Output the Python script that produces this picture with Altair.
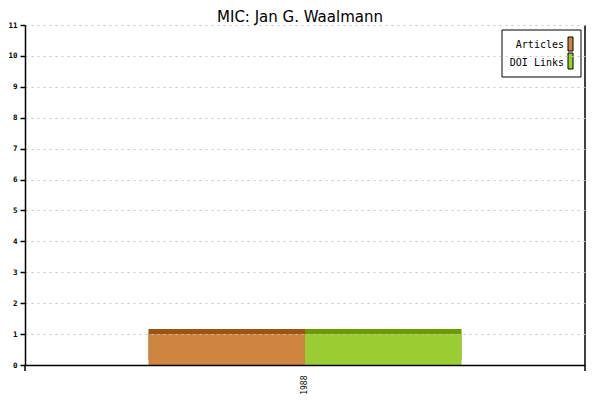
import altair as alt
import pandas as pd

years = ["1988"]
series = ["Articles", "DOI Links"]
articles = [1]
doi_links = [1]
title_text = "MIC: Jan G. Waalmann"

front_colors = ["#CD853F", "#9ACD32"]
back_colors = ["#9C5412", "#6A9B00"]

rows = []
for i, y in enumerate(years):
    rows.append({"year": y, "series": series[0], "value": articles[i]})
    rows.append({"year": y, "series": series[1], "value": doi_links[i]})
df = pd.DataFrame(rows)

W, H = 560, 340
mono = "DejaVu Sans Mono"

x_enc = alt.X("year:N", title=None,
              scale=alt.Scale(paddingInner=0, paddingOuter=0.3946),
              axis=alt.Axis(labelAngle=270, ticks=False, labelPadding=10,
                            labelFont=mono, labelFontSize=8, labelColor="black",
                            domainColor="black", domainWidth=1.5, grid=False, zindex=2))
xoff = alt.XOffset("series:N", sort=series,
                   scale=alt.Scale(paddingInner=0, paddingOuter=0))
y_enc = alt.Y("value:Q", title=None,
              scale=alt.Scale(domain=[0, 11], nice=False),
              axis=alt.Axis(values=list(range(0, 12)), tickSize=5, tickColor="black",
                            tickWidth=1.5, domainColor="black", domainWidth=1.5,
                            labelFont=mono, labelFontSize=7.5, labelFontWeight="bold",
                            labelColor="black", labelPadding=3,
                            grid=True, gridColor="#c4c4c4", gridDash=[2, 4], zindex=2))

base = alt.Chart(df)

back = base.mark_bar(xOffset=5, yOffset=-5).encode(
    x=x_enc, xOffset=xoff, y=y_enc,
    color=alt.Color("series:N", scale=alt.Scale(domain=series, range=back_colors), legend=None),
)
front = base.mark_bar().encode(
    x=x_enc, xOffset=xoff, y=y_enc,
    color=alt.Color("series:N", scale=alt.Scale(domain=series, range=front_colors), legend=None),
)

one = alt.Data(values=[{}])
right_line = alt.Chart(one).mark_rule(color="black", strokeWidth=1.5).encode(
    x=alt.value(W), y=alt.value(0), y2=alt.value(H + 6))
left_ext = alt.Chart(one).mark_rule(color="black", strokeWidth=1.5).encode(
    x=alt.value(0), y=alt.value(H), y2=alt.value(H + 6))

title = alt.Chart(alt.Data(values=[{"t": title_text}])).mark_text(
    font="DejaVu Sans", fontSize=15, color="black", align="center", baseline="alphabetic"
).encode(x=alt.value(275), y=alt.value(-3), text="t:N")

# legend
leg_box = alt.Chart(one).mark_rect(fill="white", stroke="black", strokeWidth=1).encode(
    x=alt.value(477), x2=alt.value(556), y=alt.value(5), y2=alt.value(52))
leg_layers = [leg_box]
sw_y = [(12, 26), (28, 44)]
txt_y = [20, 38]
for i, s in enumerate(series):
    leg_layers.append(
        alt.Chart(alt.Data(values=[{"s": s}])).mark_rect(
            fill=front_colors[i], stroke="black", strokeWidth=1).encode(
            x=alt.value(543), x2=alt.value(548), y=alt.value(sw_y[i][0]), y2=alt.value(sw_y[i][1])))
    leg_layers.append(
        alt.Chart(alt.Data(values=[{"s": s}])).mark_text(
            align="right", baseline="middle", font=mono, fontSize=10, color="black").encode(
            x=alt.value(539), y=alt.value(txt_y[i]), text="s:N"))

chart = alt.layer(back, front, right_line, left_ext, title, *leg_layers).resolve_scale(
    color="independent"
).properties(
    width=W, height=H,
    autosize=alt.AutoSizeParams(type="none"),
    padding={"left": 17, "top": 17, "right": 7, "bottom": 34},
).configure_view(stroke=None)

chart.save("out.html", embed_options={"renderer": "svg", "actions": False})
